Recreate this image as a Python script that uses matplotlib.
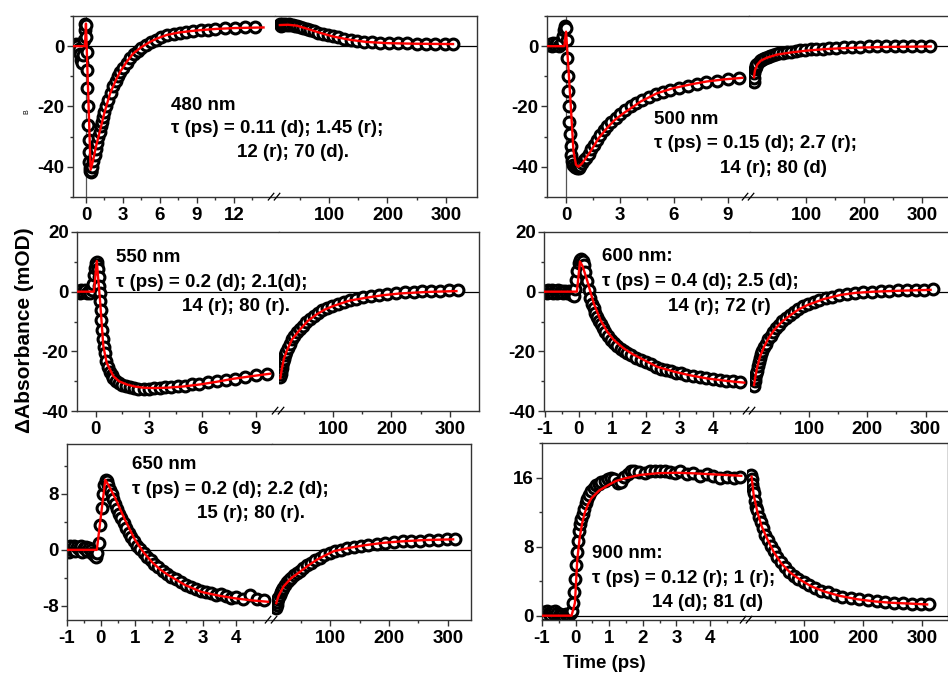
import numpy as np
import matplotlib
matplotlib.use("Agg")
import matplotlib.pyplot as plt
from matplotlib.lines import Line2D

plt.rcParams['font.family'] = ['Liberation Sans', 'DejaVu Sans']
plt.rcParams['font.weight'] = 'bold'
plt.rcParams['axes.unicode_minus'] = False

# ---- kinetic traces (time in ps, dA in mOD) ----
t480 = [-0.9, -0.8, -0.7, -0.6, -0.5, -0.4, -0.3, -0.2, -0.15, -0.1, -0.05,
        0.0, 0.03, 0.06, 0.09, 0.12, 0.15, 0.18, 0.21, 0.24, 0.27, 0.3,
        0.35, 0.4, 0.45, 0.5, 0.6, 0.7, 0.8, 0.9, 1.0, 1.1, 1.2, 1.3, 1.4, 1.5,
        1.65, 1.8, 2.0, 2.2, 2.4, 2.6, 2.8, 3.0,
        3.3, 3.6, 3.9, 4.2, 4.5, 4.9, 5.3, 5.7, 6.1, 6.6, 7.1, 7.6, 8.1, 8.7, 9.3, 9.9,
        10.5, 11.3, 12.1, 12.9, 13.7,
        16, 18, 20, 22, 25, 28, 31, 34, 38, 42, 46, 51, 56, 62, 68, 75, 82, 90, 98,
        107, 116, 126, 137, 148, 160, 173, 187, 202, 218, 234, 250, 266, 282, 298, 312]
dA480 = [0.5, 0.8, 0.2, -0.8, -2.5, -4.5, -5.5, -3.0, 2.0, 5.5, 7.5,
         7.0, 3.0, -2.0, -8.0, -14.0, -20.0, -26.0, -31.0, -35.0, -38.5, -40.5,
         -41.5, -41.8, -41.3, -40.0, -38.0, -36.0, -34.0, -32.0, -30.0, -28.3, -26.6, -25.0, -23.4, -21.8,
         -19.7, -17.8, -15.4, -13.3, -11.6, -10.0, -8.5, -7.2,
         -5.5, -3.9, -2.6, -1.5, -0.6, 0.4, 1.5, 2.2, 2.9, 3.6, 4.0, 4.4, 4.7, 5.0, 5.3, 5.5,
         5.7, 5.9, 6.1, 6.2, 6.3,
         7.4, 6.8, 7.3, 6.9, 7.2, 7.0, 7.3, 6.9, 6.9, 6.6, 6.7, 6.3, 6.0, 5.8, 5.3, 5.0, 4.5, 4.1, 3.7,
         3.3, 2.9, 2.5, 2.1, 1.8, 1.5, 1.4, 1.2, 1.2, 1.0, 0.9, 0.8, 0.8, 0.7, 0.7, 0.7]
fit480_t = [-1.0, -0.08, 0.0, 0.38, 0.6, 0.8, 1.14, 1.5, 1.95, 2.4, 2.76, 3.3, 3.84, 4.5,
            5.19, 5.8, 6.54, 7.5, 8.5, 9.25, 10.5, 12.0, 14.4,
            16, 30, 45, 62, 85, 107, 136, 164, 200, 250, 312]
fit480 = [0, 0, 7.5, -41.0, -37.5, -33.5, -28.0, -22.0, -15.8, -11.5, -8.6, -5.2, -2.4, -0.3,
          1.4, 2.6, 3.7, 4.5, 5.0, 5.3, 5.7, 6.0, 6.2,
          7.0, 7.1, 6.8, 5.8, 4.4, 3.2, 2.1, 1.4, 1.0, 0.8, 0.7]

t500 = [-1.0, -0.9, -0.8, -0.7, -0.6, -0.5, -0.4, -0.3, -0.2, -0.15, -0.1, -0.05,
        0.0, 0.03, 0.06, 0.09, 0.12, 0.15, 0.18, 0.21, 0.25, 0.3, 0.35, 0.4,
        0.5, 0.6, 0.7, 0.8, 0.9, 1.0, 1.1, 1.25, 1.4, 1.55, 1.7, 1.9, 2.1, 2.3, 2.5,
        2.75, 3.0, 3.3, 3.6, 3.9, 4.2, 4.6, 5.0, 5.4, 5.8, 6.3, 6.8, 7.3, 7.8, 8.4, 9.0, 9.6,
        10, 10.5, 11, 12, 13, 14, 16, 20, 23, 26, 30, 34, 38, 43, 48, 54, 60, 67, 74, 82,
        90, 99, 108, 118, 129, 140, 152, 165, 179, 193, 208, 223, 238, 253, 268, 283, 298, 313]
dA500 = [0.3, 0.8, 0.2, 1.0, 0.4, 0.9, 0.2, 0.6, 1.5, 3.5, 5.5, 6.8,
         6.0, 2.0, -4.0, -10.0, -15.0, -20.0, -25.0, -29.0, -33.0, -36.0, -38.0, -39.3,
         -40.0, -40.5, -40.3, -39.6, -38.6, -37.8, -37.0, -35.6, -34.2, -32.6, -31.0, -29.4, -27.9, -26.5, -25.2,
         -23.8, -22.4, -21.0, -19.9, -18.9, -18.0, -16.9, -15.9, -15.2, -14.5, -13.8, -13.1, -12.5, -12.0, -11.5, -11.0, -10.6,
         -12.0, -10.5, -9.0, -7.6, -6.8, -6.2, -5.8, -4.9, -4.5, -4.2, -3.9, -3.6, -3.3, -3.0, -2.7, -2.4, -2.2, -2.0, -1.8, -1.6,
         -1.4, -1.2, -1.0, -0.9, -0.8, -0.6, -0.5, -0.4, -0.3, -0.2, -0.1, -0.1, 0.0, 0.0, 0.1, 0.1, 0.2, 0.2]
fit500_t = [-1.0, -0.1, 0.0, 0.24, 0.41, 0.55, 0.69, 0.9, 1.35, 1.8, 2.28, 2.7, 3.2, 3.7, 4.13,
            5.06, 5.98, 6.9, 7.83, 8.8, 9.8,
            10.2, 12, 16, 22, 33, 50, 73.6, 100, 131, 160, 188, 240, 315]
fit500 = [0, 0, 4.8, -17.6, -34.7, -39.3, -40.0, -38.8, -35.0, -30.6, -27.1, -24.5, -22.2, -20.2, -18.4,
          -15.6, -13.9, -12.7, -11.7, -11.0, -10.5,
          -10.3, -8.0, -6.1, -4.8, -3.8, -2.8, -2.1, -1.5, -1.0, -0.7, -0.5, -0.25, -0.1]

t550 = [-1.0, -0.9, -0.8, -0.7, -0.6, -0.5, -0.4, -0.3, -0.2, -0.15, -0.1, -0.05,
        0.0, 0.05, 0.1, 0.13, 0.16, 0.19, 0.22, 0.25, 0.28, 0.32, 0.36,
        0.4, 0.45, 0.5, 0.6, 0.7, 0.8, 0.9, 1.0, 1.15, 1.3, 1.5, 1.7, 1.9, 2.15, 2.4, 2.7,
        3.0, 3.3, 3.6, 3.9, 4.25, 4.6, 5.0, 5.4, 5.8, 6.3, 6.8, 7.3, 7.8, 8.4, 9.0, 9.6,
        10, 10.5, 11, 12, 13, 14, 16, 18, 20, 23, 26, 30, 34, 38, 43, 48, 54, 60, 67, 74,
        82, 90, 99, 108, 118, 129, 140, 152, 165, 179, 193, 208, 223, 238, 253, 268, 283, 298, 313]
dA550 = [0.3, -0.4, 0.5, -0.2, 0.4, -0.5, 0.2, -0.3, 0.4, 2.5, 5.5, 8.0,
         9.5, 9.9, 9.0, 7.5, 5.0, 2.0, -0.5, -3.0, -6.0, -9.5, -13.0,
         -16.0, -18.5, -20.5, -23.3, -25.3, -26.8, -28.0, -28.9, -29.8, -30.5, -31.2, -31.7, -32.1, -32.4, -32.6, -32.7,
         -32.5, -32.3, -32.4, -32.0, -31.8, -31.5, -31.5, -31.0, -30.8, -30.4, -30.0, -29.5, -29.2, -28.6, -28.0, -27.5,
         -28.5, -27.5, -26.5, -25.5, -24.5, -23.5, -22.5, -21.2, -20.2, -18.8, -17.5, -16.0, -14.7, -13.6, -12.5, -11.4,
         -10.2, -9.2, -8.1, -7.2, -6.3, -5.5, -4.8, -4.1, -3.5, -2.9, -2.4, -1.9, -1.5, -1.0, -0.7, -0.4, -0.2, 0.0,
         0.1, 0.2, 0.3, 0.4, 0.5]
fit550_t = [-1.0, -0.1, 0.06, 0.24, 0.43, 0.62, 0.99, 1.3, 1.74, 2.2, 2.67, 3.3, 4.0, 4.9,
            5.86, 6.8, 7.73, 8.8, 9.8,
            10, 12, 16, 20.9, 30, 43.6, 57, 72, 86, 100.6, 128, 157.6, 185, 214.5, 260, 311]
fit550 = [0, 0, 10.3, -2.6, -18.3, -23.9, -28.3, -30.0, -31.1, -31.8, -32.2, -32.3, -32.2, -31.8,
          -31.1, -30.2, -29.2, -28.3, -27.5,
          -29.0, -26.5, -22.5, -19.9, -16.0, -12.7, -9.8, -7.6, -6.0, -4.8, -3.0, -2.0, -1.2, -0.6, -0.1, 0.2]

t600 = [-1.0, -0.95, -0.9, -0.85, -0.8, -0.75, -0.7, -0.65, -0.6, -0.55, -0.5, -0.45,
        -0.4, -0.35, -0.3, -0.25, -0.2, -0.15, -0.1, -0.07, -0.04,
        0.0, 0.04, 0.08, 0.12, 0.16, 0.2, 0.25, 0.3, 0.35, 0.4, 0.45, 0.5, 0.55, 0.6, 0.66, 0.72,
        0.8, 0.88, 0.96, 1.05,
        1.15, 1.25, 1.35, 1.45, 1.55, 1.7, 1.85, 2.0, 2.15, 2.3, 2.45, 2.6, 2.75, 2.9, 3.05, 3.2,
        3.4, 3.6, 3.8, 4.0, 4.2, 4.4, 4.6, 4.8,
        6, 7, 8, 9, 10, 12, 14, 16, 18, 20, 23, 26, 30, 34, 38, 43, 48, 54, 60, 67,
        74, 82, 90, 99, 108, 118, 129, 140, 152, 165, 179, 193, 208, 223, 238, 253, 268, 283, 298, 313]
dA600 = [0.3, -0.4, 0.5, -0.2, 0.6, -0.3, 0.2, -0.5, 0.4, -0.2, 0.3, -0.4,
         0.2, -0.3, 0.1, -0.6, -1.2, -1.5, 1.0, 4.0, 7.0,
         9.5, 10.5, 10.8, 10.2, 8.8, 6.5, 3.5, 0.5, -2.0, -4.0, -5.5, -7.0, -8.5, -9.8, -11.0, -12.2,
         -13.6, -15.0, -16.2, -17.3,
         -18.3, -19.2, -20.0, -20.7, -21.3, -22.1, -22.9, -23.6, -24.4, -25.1, -25.8, -26.2, -26.6, -27.1, -27.4, -27.8,
         -28.2, -28.6, -29.0, -29.3, -29.6, -29.8, -30.1, -30.4,
         -31.5, -30.0, -28.8, -27.7, -26.7, -25.0, -23.5, -22.2, -21.0, -20.0, -18.7, -17.5, -16.0, -14.8, -13.6,
         -12.3, -11.1, -9.9, -8.8, -7.7,
         -6.7, -5.7, -4.9, -4.1, -3.4, -2.8, -2.2, -1.7, -1.2, -0.8, -0.5, -0.2, 0.0, 0.2, 0.3, 0.4, 0.5, 0.6, 0.7, 0.8]
fit600_t = [-1.0, -0.05, 0.04, 0.12, 0.25, 0.45, 0.65, 0.85, 1.05, 1.34, 1.6, 1.84, 2.34, 2.84,
            3.3, 3.83, 4.4, 4.93,
            5.7, 8, 11.3, 16, 22.8, 30, 40, 54, 68.6, 82, 97, 125, 154, 180, 211.5, 260, 308.7]
fit600 = [0, 0, 10.1, 8.5, 3.9, -3.9, -9.5, -13.4, -16.2, -19.0, -20.9, -22.3, -25.2, -26.8,
          -28.0, -29.1, -29.9, -30.5,
          -31.3, -28.5, -25.2, -21.8, -18.5, -15.8, -12.9, -10.0, -7.8, -6.0, -4.5, -2.5, -1.1, -0.4, 0.0, 0.35, 0.6]

t650 = [-1.0, -0.95, -0.9, -0.85, -0.8, -0.75, -0.7, -0.65, -0.6, -0.55, -0.5, -0.45,
        -0.4, -0.35, -0.3, -0.25, -0.2, -0.15, -0.1, -0.06, -0.02,
        0.02, 0.06, 0.1, 0.14, 0.18, 0.22, 0.27, 0.32, 0.37, 0.42, 0.48, 0.54, 0.6, 0.67, 0.74,
        0.82, 0.9, 0.98, 1.07, 1.16,
        1.26, 1.36, 1.47, 1.58, 1.7, 1.82, 1.95, 2.08, 2.22, 2.36, 2.5, 2.65, 2.8, 2.95, 3.1,
        3.25, 3.4, 3.55, 3.7, 3.85, 4.0, 4.2, 4.4, 4.6, 4.8,
        8, 9, 10, 11, 12, 14, 16, 18, 20, 23, 26, 30, 34, 38, 43, 48, 54, 60, 67,
        74, 82, 90, 99, 108, 118, 129, 140, 152, 165, 179, 193, 208, 223, 238, 253, 268, 283, 298, 313]
dA650 = [0.3, -0.3, 0.6, 0.0, 0.5, -0.2, 0.4, 0.1, 0.5, -0.3, 0.2, 0.4,
         -0.2, 0.3, 0.0, -0.4, -0.8, -1.0, -0.5, 1.0, 3.5,
         6.0, 8.0, 9.3, 9.9, 9.8, 9.3, 8.6, 7.9, 7.2, 6.5, 5.8, 5.1, 4.5, 3.8, 3.1,
         2.4, 1.8, 1.2, 0.6, 0.1,
         -0.5, -1.0, -1.5, -2.0, -2.5, -3.0, -3.4, -3.8, -4.2, -4.6, -5.0, -5.3, -5.6, -5.9, -6.0,
         -6.2, -6.4, -6.3, -6.6, -6.8, -6.7, -7.0, -6.4, -7.0, -7.1,
         -8.3, -7.8, -7.4, -7.0, -6.8, -6.4, -6.0, -5.7, -5.4, -5.0, -4.6, -4.3, -4.0, -3.6, -3.3, -3.0, -2.6, -2.2, -1.8,
         -1.5, -1.1, -0.8, -0.5, -0.2, 0.0, 0.2, 0.4, 0.6, 0.7, 0.9, 1.0, 1.1, 1.2, 1.3, 1.3, 1.4, 1.4, 1.5, 1.5]
fit650_t = [-1.0, -0.12, 0.13, 0.25, 0.42, 0.71, 1.01, 1.25, 1.5, 1.75, 1.99, 2.48, 2.97, 3.45,
            3.95, 4.45, 4.93,
            8.3, 12, 20.7, 34, 49, 63, 77.4, 91, 105.6, 133, 162, 190, 218.8, 260, 309]
fit650 = [0, 0, 10.0, 9.0, 7.4, 4.3, 1.4, -0.3, -1.7, -2.8, -3.6, -5.0, -6.0, -6.5,
          -6.9, -7.2, -7.4,
          -7.6, -6.6, -5.2, -4.0, -3.1, -2.2, -1.4, -0.8, -0.2, 0.3, 0.7, 1.0, 1.2, 1.4, 1.5]

t900 = [-1.0, -0.95, -0.9, -0.85, -0.8, -0.75, -0.7, -0.65, -0.6, -0.55, -0.5, -0.45,
        -0.4, -0.35, -0.3, -0.25, -0.2, -0.15, -0.1, -0.07, -0.04, -0.01,
        0.02, 0.05, 0.08, 0.11, 0.14, 0.17, 0.21, 0.25, 0.3, 0.35, 0.41, 0.47, 0.54, 0.61,
        0.69, 0.77, 0.86, 0.95, 1.05, 1.15,
        1.25, 1.35, 1.45, 1.55, 1.65, 1.75, 1.9, 2.05, 2.2, 2.35, 2.5, 2.65, 2.8, 2.95,
        3.1, 3.3, 3.5, 3.7, 3.9, 4.1, 4.3, 4.5, 4.7, 4.9,
        10, 11, 12, 13, 14, 16, 18, 20, 23, 26, 30, 34, 38, 43, 48, 54, 60, 67,
        74, 82, 90, 99, 108, 118, 129, 140, 152, 165, 179, 193, 208, 223, 238, 253, 268, 283, 298, 313]
dA900 = [0.2, 0.4, 0.1, 0.5, 0.3, 0.1, 0.4, 0.2, 0.6, 0.3, 0.0, 0.2,
         0.1, -0.1, 0.2, 0.0, 0.1, 0.3, 0.6, 1.5, 2.8, 4.3,
         5.9, 7.4, 8.7, 9.8, 10.6, 11.2, 11.8, 12.4, 13.0, 13.5, 14.0, 14.4, 14.8, 15.1,
         15.3, 15.5, 15.6, 15.8, 15.9, 15.8,
         15.4, 15.5, 16.1, 16.4, 16.7, 16.8, 16.6, 16.5, 16.7, 16.8, 16.7, 16.8, 16.6, 16.5,
         16.7, 16.4, 16.5, 16.2, 16.4, 16.2, 16.0, 16.1, 15.9, 16.1,
         16.3, 15.8, 15.2, 14.7, 14.2, 13.3, 12.6, 12.2, 11.4, 10.8, 10.1, 9.4, 8.8, 8.1, 7.5, 6.8, 6.2, 5.6,
         5.1, 4.6, 4.3, 3.9, 3.5, 3.2, 2.9, 2.7, 2.4, 2.2, 2.0, 1.9, 1.8, 1.7, 1.6, 1.5, 1.5, 1.4, 1.4, 1.3]
fit900_t = [-1.0, -0.12, -0.02, 0.05, 0.12, 0.2, 0.27, 0.37, 0.47, 0.7, 0.96, 1.2, 1.46, 1.9,
            2.45, 3.0, 3.44, 4.2, 4.93,
            10.5, 14, 20.7, 28, 37.7, 48, 60.4, 76, 94.4, 112, 134, 160, 190.5, 220, 247, 280, 309]
fit900 = [0, 0, 1.5, 6.5, 9.0, 10.8, 11.9, 12.9, 13.6, 14.5, 15.1, 15.6, 15.9, 16.3,
          16.5, 16.55, 16.5, 16.35, 16.2,
          16.1, 14.0, 11.9, 10.3, 8.8, 7.4, 6.1, 5.0, 4.1, 3.4, 2.8, 2.3, 1.9, 1.65, 1.5, 1.4, 1.3]

notes480 = ["480 nm", "τ (ps) = 0.11 (d); 1.45 (r);", "12 (r); 70 (d)."]
notes500 = ["500 nm", "τ (ps) = 0.15 (d); 2.7 (r);", "14 (r); 80 (d)"]
notes550 = ["550 nm", "τ (ps) = 0.2 (d); 2.1(d);", "14 (r); 80 (r)."]
notes600 = ["600 nm:", "τ (ps) = 0.4 (d); 2.5 (d);", "14 (r); 72 (r)"]
notes650 = ["650 nm", "τ (ps) = 0.2 (d); 2.2 (d);", "15 (r); 80 (r)."]
notes900 = ["900 nm:", "τ (ps) = 0.12 (r); 1 (r);", "14 (d); 81 (d)"]

W, H = 948, 677
fig = plt.figure(figsize=(W / 100, H / 100), dpi=100)

# layout in pixels: box = (left, top, right, bottom), brk = x of the axis break
panels = [
    dict(t=t480, y=dA480, ft=fit480_t, fy=fit480, split=15.0, notes=notes480,
         box=(73, 16, 477, 197), brk=275, xl=(-1.05, 15.33), xr=(7.7, 353), ylim=(-50, 10),
         xt=[0, 3, 6, 9, 12], xm=[1.5, 4.5, 7.5, 10.5, 13.5], yt=[-40, -20, 0], ym=[-50, -30, -10, 10],
         vline=True, tpos=[(171, 110), (171, 133), (237, 157)]),
    dict(t=t500, y=dA500, ft=fit500_t, fy=fit500, split=9.9, notes=notes500,
         box=(547, 16, 951, 197), brk=749, xl=(-1.06, 10.17), xr=(1.7, 350), ylim=(-50, 10),
         xt=[0, 3, 6, 9], xm=[1.5, 4.5, 7.5], yt=[-40, -20, 0], ym=[-50, -30, -10, 10],
         vline=True, tpos=[(654, 124), (654, 148), (720, 173)]),
    dict(t=t550, y=dA550, ft=fit550_t, fy=fit550, split=9.9, notes=notes550,
         box=(77, 232, 479, 411), brk=279, xl=(-1.05, 10.3), xr=(7.7, 349.6), ylim=(-40, 20),
         xt=[0, 3, 6, 9], xm=[1.5, 4.5, 7.5], yt=[-40, -20, 0, 20], ym=[-30, -10, 10],
         vline=False, tpos=[(116, 262), (116, 287), (182, 311)]),
    dict(t=t600, y=dA600, ft=fit600_t, fy=fit600, split=5.0, notes=notes600,
         box=(544, 232, 950, 411), brk=750, xl=(-1.03, 5.1), xr=(-1.2, 342), ylim=(-40, 20),
         xt=[-1, 0, 1, 2, 3, 4], xm=[-0.5, 0.5, 1.5, 2.5, 3.5, 4.5], yt=[-40, -20, 0, 20], ym=[-30, -10, 10],
         vline=False, tpos=[(602, 261), (602, 286), (668, 311)]),
    dict(t=t650, y=dA650, ft=fit650_t, fy=fit650, split=5.0, notes=notes650,
         box=(67, 444, 471, 620), brk=272, xl=(-1.0, 5.05), xr=(1.0, 339.4), ylim=(-10, 15.1),
         xt=[-1, 0, 1, 2, 3, 4], xm=[-0.5, 0.5, 1.5, 2.5, 3.5, 4.5], yt=[-8, 0, 8], ym=[-4, 4, 12],
         vline=False, tpos=[(132, 469), (132, 494), (197, 518)]),
    dict(t=t900, y=dA900, ft=fit900_t, fy=fit900, split=5.0, notes=notes900,
         box=(542, 443, 948, 620), brk=747, xl=(-1.0, 5.1), xr=(2.7, 344.5), ylim=(-0.5, 20),
         xt=[-1, 0, 1, 2, 3, 4], xm=[-0.5, 0.5, 1.5, 2.5, 3.5, 4.5], yt=[0, 8, 16], ym=[4, 12, 20],
         vline=False, tpos=[(592, 558), (592, 583), (652, 607)]),
]

spine_col = '#333333'
tick_fs = 13.5

for p in panels:
    x0, y0, x1, y1 = p['box']
    b = p['brk']
    axl = fig.add_axes([x0 / W, 1 - y1 / H, (b - x0) / W, (y1 - y0) / H])
    axr = fig.add_axes([b / W, 1 - y1 / H, (x1 - b) / W, (y1 - y0) / H], sharey=axl)

    t = np.array(p['t'])
    y = np.array(p['y'])
    ft = np.array(p['ft'])
    fy = np.array(p['fy'])
    early = t <= p['split']
    fearly = ft <= p['split']

    for ax, m, fm in ((axl, early, fearly), (axr, ~early, ~fearly)):
        ax.axhline(0, color='black', lw=0.9, zorder=1)
        ax.plot(t[m], y[m], 'o', ms=7.8, mfc='white', mec='black', mew=2.2, zorder=2)
        ax.plot(ft[fm], fy[fm], '-', color='red', lw=1.7, zorder=3)
        for s in ax.spines.values():
            s.set_color(spine_col)
            s.set_linewidth(1.0)
        ax.tick_params(which='both', direction='out', color=spine_col, width=1.0,
                       labelsize=tick_fs)
        ax.tick_params(which='major', length=4)
        ax.tick_params(which='minor', length=2.5)
        ax.tick_params(axis='x', pad=3)
        ax.tick_params(axis='y', pad=2)

    if p['vline']:
        axl.axvline(0, color='#555555', lw=0.9, zorder=1)

    axl.set_xlim(*p['xl'])
    axr.set_xlim(*p['xr'])

    axl.set_xticks(p['xt'])
    axl.set_xticks([v for v in p['xm'] if p['xl'][0] < v < p['xl'][1]], minor=True)
    axr.set_xticks([100, 200, 300])
    axr.set_xticks([v for v in (50, 150, 250) if p['xr'][0] < v < p['xr'][1]], minor=True)
    axl.set_yticks(p['yt'])
    axl.set_yticks(p['ym'], minor=True)
    axl.set_ylim(*p['ylim'])

    axl.spines['right'].set_visible(False)
    axr.spines['left'].set_visible(False)
    axr.tick_params(axis='y', which='both', left=False, labelleft=False)

    # break marks on the bottom axis
    for dx in (-6.7, -0.7):
        fig.add_artist(Line2D([(b + dx) / W, (b + dx + 5.5) / W],
                              [1 - (y1 + 3) / H, 1 - (y1 - 3.7) / H],
                              color='black', lw=0.9))

    for (tx, ty), s in zip(p['tpos'], p['notes']):
        fig.text(tx / W, 1 - ty / H, s, fontsize=13.5, fontweight='bold',
                 ha='left', va='baseline')

fig.text(25 / W, 1 - 330 / H, 'ΔAbsorbance (mOD)', rotation=90, fontsize=15,
         fontweight='bold', ha='center', va='center')
fig.text(604 / W, 1 - 668 / H, 'Time (ps)', fontsize=13.5, fontweight='bold',
         ha='center', va='baseline')
fig.text(27 / W, 1 - 112 / H, 'B', rotation=90, fontsize=5, fontweight='normal',
         ha='center', va='center')

fig.savefig('out.png', dpi=100)
